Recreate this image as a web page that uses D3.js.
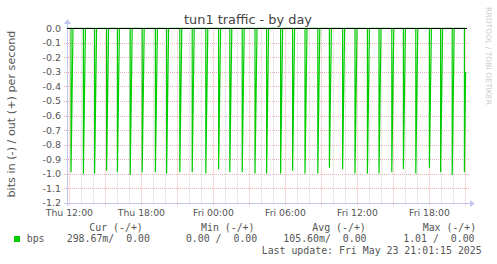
<!DOCTYPE html>
<html>
<head>
<meta charset="utf-8">
<script src="https://cdn.jsdelivr.net/npm/d3@7"></script>
<style>
  html, body { margin: 0; padding: 0; background: #fff; }
  svg { display: block; }
  text { font-family: "DejaVu Sans", sans-serif; }
  .mono { font-family: "DejaVu Sans Mono", monospace; white-space: pre; }
</style>
</head>
<body>
<div id="chart"></div>
<script>
// spike times (bits in, shown negative) and their depths
const spikeTimes = [
  '2025-05-22T12:08', '2025-05-22T13:10', '2025-05-22T14:06', '2025-05-22T15:06',
  '2025-05-22T16:00', '2025-05-22T17:04', '2025-05-22T18:04', '2025-05-22T19:10',
  '2025-05-22T20:06', '2025-05-22T21:12', '2025-05-22T22:14', '2025-05-22T23:22',
  '2025-05-23T00:26', '2025-05-23T01:22', '2025-05-23T02:24', '2025-05-23T03:28',
  '2025-05-23T04:26', '2025-05-23T05:36', '2025-05-23T06:36', '2025-05-23T07:38',
  '2025-05-23T08:42', '2025-05-23T09:40', '2025-05-23T10:46', '2025-05-23T11:48',
  '2025-05-23T12:50', '2025-05-23T13:48', '2025-05-23T14:52', '2025-05-23T15:50',
  '2025-05-23T16:52', '2025-05-23T18:00', '2025-05-23T18:56', '2025-05-23T19:54',
  '2025-05-23T20:55'
];
const spikeDepths = [
  -0.99, -1.00, -1.00, -0.98, -0.99, -1.01, -0.99, -0.99,
  -1.00, -0.99, -0.99, -1.00, -0.97, -0.99, -0.99, -1.00,
  -1.00, -1.00, -0.98, -1.00, -1.00, -0.96, -0.97, -1.00,
  -1.00, -1.00, -0.99, -0.97, -1.00, -0.96, -0.99, -1.01,
  -0.99
];
const lastTime = '2025-05-23T21:01';
const lastValue = -0.30;

const yTicks = [0, -0.1, -0.2, -0.3, -0.4, -0.5, -0.6, -0.7, -0.8, -0.9, -1.0, -1.1, -1.2];
const xLabels = ['Thu 12:00', 'Thu 18:00', 'Fri 00:00', 'Fri 06:00', 'Fri 12:00', 'Fri 18:00'];

const legendHeads = ['Cur (-/+)', 'Min (-/+)', 'Avg (-/+)', 'Max (-/+)'];
const legendVals = ['298.67m/  0.00', '  0.00 /  0.00', '105.60m/  0.00', '  1.01 /  0.00'];

const width = 497, height = 264;
const svg = d3.select('#chart').append('svg').attr('width', width).attr('height', height);

const start = new Date('2025-05-22T11:48');
const end = new Date('2025-05-23T21:08');
const x = d3.scaleTime().domain([start, end]).range([67, 467]);
const y = d3.scaleLinear().domain([-1.2, 0]).range([202.7, 28.3]);

const gridRed = '#ebb4b4', gridGrey = '#d4d4d4', axisCol = '#c4c4f2';

// vertical grid: hourly grey, 3-hourly red
const hours = d3.timeHour.range(start, end);
svg.append('g').selectAll('line').data(hours).join('line')
  .attr('x1', d => Math.round(x(d)) + 0.5).attr('x2', d => Math.round(x(d)) + 0.5)
  .attr('y1', y(0)).attr('y2', d => d.getHours() % 3 === 0 ? y(-1.2) + 4 : y(-1.2) + 2)
  .attr('stroke', d => d.getHours() % 3 === 0 ? gridRed : gridGrey)
  .attr('stroke-dasharray', '1,1');

// horizontal grid
svg.append('g').selectAll('line').data(yTicks.slice(1)).join('line')
  .attr('x1', 64).attr('x2', 469)
  .attr('y1', d => Math.round(y(d)) + 0.5).attr('y2', d => Math.round(y(d)) + 0.5)
  .attr('stroke', gridRed).attr('stroke-dasharray', '1,1');

// y tick labels
svg.append('g').selectAll('text').data(yTicks).join('text')
  .attr('x', 61).attr('y', d => y(d) + 3.5)
  .attr('text-anchor', 'end').attr('font-size', 9.5).attr('fill', '#555')
  .text(d => d3.format('.1f')(d).replace('−', '-'));

// x labels
const labelTimes = d3.timeHour.every(6).range(start, end);
svg.append('g').selectAll('text').data(labelTimes).join('text')
  .attr('x', d => x(d)).attr('y', 216)
  .attr('text-anchor', 'middle').attr('font-size', 9.3).attr('fill', '#555')
  .text((d, i) => xLabels[i]);

// axes
const yb = Math.round(y(-1.2)) + 0.5;
svg.append('line').attr('x1', 64).attr('x2', 470).attr('y1', yb).attr('y2', yb).attr('stroke', axisCol);
svg.append('path').attr('d', `M470,${yb - 3.5}L475,${yb}L470,${yb + 3.5}Z`).attr('fill', axisCol);
svg.append('line').attr('x1', 67.5).attr('x2', 67.5).attr('y1', 206).attr('y2', 24).attr('stroke', axisCol);
svg.append('path').attr('d', 'M64,24L67.5,19L71,24Z').attr('fill', axisCol);

// series
const series = [[start, 0]];
spikeTimes.forEach((t, i) => {
  const d = new Date(t);
  series.push([d, 0], [d, spikeDepths[i]]);
  if (i < spikeTimes.length - 1) series.push([d3.timeMinute.offset(d, 10), 0]);
});
series.push([new Date(lastTime), lastValue]);

const line = d3.line().x(d => x(d[0])).y(d => y(d[1]));
svg.append('path').datum(series).attr('d', line)
  .attr('fill', 'none').attr('stroke', '#00cc00').attr('stroke-width', 1.2);

// zero line
svg.append('line').attr('x1', 67).attr('x2', 467).attr('y1', Math.round(y(0)) + 0.5).attr('y2', Math.round(y(0)) + 0.5)
  .attr('stroke', '#000').attr('stroke-width', 1);

// title and labels
svg.append('text').attr('x', 248).attr('y', 24).attr('text-anchor', 'middle')
  .attr('font-size', 12.9).attr('fill', '#444').text('tun1 traffic - by day');
svg.append('text').attr('transform', 'translate(15,114) rotate(-90)').attr('text-anchor', 'middle')
  .attr('font-size', 11.2).attr('fill', '#555').text('bits in (-) / out (+) per second');
svg.append('text').attr('transform', 'translate(486,56) rotate(90)').attr('text-anchor', 'middle')
  .attr('font-size', 7.6).attr('fill', '#ccc').text('RRDTOOL / TOBI OETIKER');

// legend
const headX = [89.3, 201, 312.3, 422.7];
const valX = [66.7, 174, 283.3, 391.3];
svg.append('g').selectAll('text').data(legendHeads).join('text').attr('class', 'mono')
  .attr('x', (d, i) => headX[i]).attr('y', 231).attr('font-size', 9.9).attr('fill', '#555').text(d => d);
svg.append('rect').attr('x', 14).attr('y', 236).attr('width', 6).attr('height', 6).attr('fill', '#00cc00');
svg.append('text').attr('class', 'mono').attr('x', 26.7).attr('y', 242).attr('font-size', 9.9).attr('fill', '#555').text('bps');
svg.append('g').selectAll('text').data(legendVals).join('text').attr('class', 'mono')
  .attr('x', (d, i) => valX[i]).attr('y', 242).attr('font-size', 9.9).attr('fill', '#555').text(d => d);
svg.append('text').attr('class', 'mono').attr('x', 261.7).attr('y', 253.5).attr('font-size', 9.9).attr('fill', '#555')
  .text('Last update: Fri May 23 21:01:15 2025');
</script>
</body>
</html>
